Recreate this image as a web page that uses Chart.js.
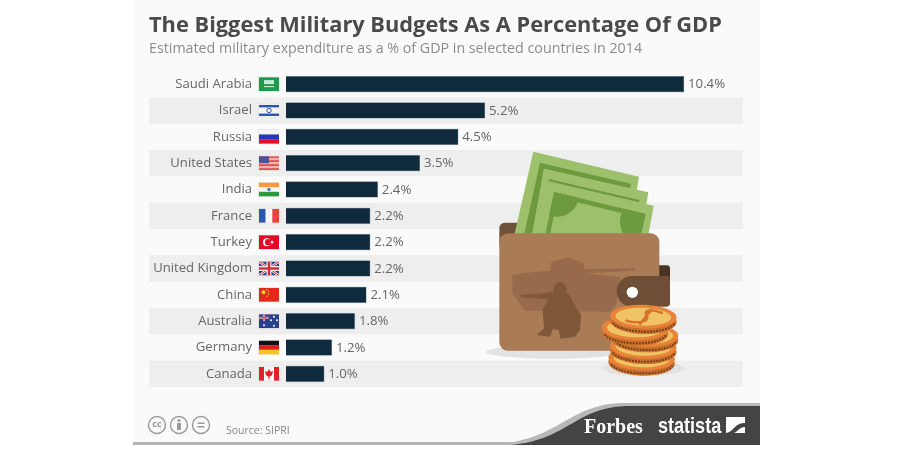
<!DOCTYPE html>
<html>
<head>
<meta charset="utf-8">
<title>Military budgets</title>
<script src="https://cdn.jsdelivr.net/npm/chart.js@4"></script>
<style>
  html, body { margin: 0; padding: 0; background: #fff; }
  canvas { display: block; }
</style>
</head>
<body>
<canvas id="chart" width="900" height="454"></canvas>
<script>
const TITLE = "The Biggest Military Budgets As A Percentage Of GDP";
const SUBTITLE = "Estimated military expenditure as a % of GDP in selected countries in 2014";
const SOURCE = "Source: SIPRI";
const countries = ["Saudi Arabia", "Israel", "Russia", "United States", "India", "France",
  "Turkey", "United Kingdom", "China", "Australia", "Germany", "Canada"];
const values = [10.4, 5.2, 4.5, 3.5, 2.4, 2.2, 2.2, 2.2, 2.1, 1.8, 1.2, 1.0];
const X_MAX = 11.94;

const FONT = '"Open Sans", sans-serif';
const INK = "#666666";

function rect(c, col, x, y, w, h) { c.fillStyle = col; c.fillRect(x, y, w, h); }

/* ---------------- banderas ---------------- */
const FLAGS = {
  "Saudi Arabia": (c, x, y, w, h) => {
    rect(c, "#1f9a4c", x, y, w, h);
    rect(c, "#cfe8d5", x + 5, y + 3, w - 10, 4);
    rect(c, "#e8f4ea", x + 5, y + 9, w - 10, 1);
  },
  "Israel": (c, x, y, w, h) => {
    rect(c, "#f4f4f4", x, y, w, h);
    rect(c, "#2a56b0", x, y + 1.5, w, 2.4);
    rect(c, "#2a56b0", x, y + h - 3.9, w, 2.4);
    c.strokeStyle = "#2a56b0"; c.lineWidth = 1;
    c.beginPath(); c.arc(x + w / 2, y + h / 2, 2.2, 0, Math.PI * 2); c.stroke();
  },
  "Russia": (c, x, y, w, h) => {
    rect(c, "#f4f4f4", x, y, w, h / 3);
    rect(c, "#2438c0", x, y + h / 3, w, h / 3);
    rect(c, "#e8102a", x, y + 2 * h / 3, w, h / 3);
  },
  "United States": (c, x, y, w, h) => {
    for (let i = 0; i < 7; i++) rect(c, i % 2 ? "#f4b0ac" : "#e2504c", x, y + i * h / 7, w, h / 7);
    rect(c, "#50509a", x, y, w * 0.5, h * 0.5);
  },
  "India": (c, x, y, w, h) => {
    rect(c, "#f59a3c", x, y, w, h / 3);
    rect(c, "#f6f6f6", x, y + h / 3, w, h / 3);
    rect(c, "#2a9a3a", x, y + 2 * h / 3, w, h / 3);
    c.fillStyle = "#6a78b8";
    c.beginPath(); c.arc(x + w / 2, y + h / 2, 1.8, 0, Math.PI * 2); c.fill();
  },
  "France": (c, x, y, w, h) => {
    rect(c, "#2a5ab0", x, y, w / 3, h);
    rect(c, "#f6f6f6", x + w / 3, y, w / 3, h);
    rect(c, "#f0403c", x + 2 * w / 3, y, w / 3, h);
  },
  "Turkey": (c, x, y, w, h) => {
    rect(c, "#e30a26", x, y, w, h);
    c.fillStyle = "#fff";
    c.beginPath(); c.arc(x + 8, y + h / 2, 4, 0, Math.PI * 2); c.fill();
    c.fillStyle = "#e30a26";
    c.beginPath(); c.arc(x + 9.2, y + h / 2, 3.2, 0, Math.PI * 2); c.fill();
    c.fillStyle = "#fff";
    c.beginPath(); c.arc(x + 13, y + h / 2, 1.3, 0, Math.PI * 2); c.fill();
  },
  "United Kingdom": (c, x, y, w, h) => {
    rect(c, "#27408f", x, y, w, h);
    c.strokeStyle = "#f0e8e8"; c.lineWidth = 2.6;
    c.beginPath(); c.moveTo(x, y); c.lineTo(x + w, y + h); c.moveTo(x + w, y); c.lineTo(x, y + h); c.stroke();
    c.strokeStyle = "#d8283c"; c.lineWidth = 1;
    c.beginPath(); c.moveTo(x, y); c.lineTo(x + w, y + h); c.moveTo(x + w, y); c.lineTo(x, y + h); c.stroke();
    rect(c, "#f0e8e8", x, y + h / 2 - 2.5, w, 5);
    rect(c, "#f0e8e8", x + w / 2 - 2.5, y, 5, h);
    rect(c, "#d8283c", x, y + h / 2 - 1.2, w, 2.4);
    rect(c, "#d8283c", x + w / 2 - 1.2, y, 2.4, h);
  },
  "China": (c, x, y, w, h) => {
    rect(c, "#e2291c", x, y, w, h);
    c.fillStyle = "#f5d130";
    c.beginPath(); c.arc(x + 4.5, y + 4.5, 2, 0, Math.PI * 2); c.fill();
    [[8, 2], [9.5, 4], [9.5, 6.5], [8, 8.5]].forEach(([a, b]) => {
      c.beginPath(); c.arc(x + a, y + b, 0.7, 0, Math.PI * 2); c.fill();
    });
  },
  "Australia": (c, x, y, w, h) => {
    rect(c, "#27408f", x, y, w, h);
    rect(c, "#f0e8e8", x, y + 2.6, w / 2, 2);
    rect(c, "#f0e8e8", x + 4, y, 2, h / 2);
    rect(c, "#d8283c", x, y + 3.1, w / 2, 1);
    rect(c, "#d8283c", x + 4.5, y, 1, h / 2);
    c.fillStyle = "#fff";
    [[5, 11], [15, 2.5], [12, 6], [18, 6], [15, 11.5]].forEach(([a, b]) => {
      c.beginPath(); c.arc(x + a, y + b, 1, 0, Math.PI * 2); c.fill();
    });
  },
  "Germany": (c, x, y, w, h) => {
    rect(c, "#111111", x, y, w, h / 3);
    rect(c, "#dd1c1c", x, y + h / 3, w, h / 3);
    rect(c, "#f6c61e", x, y + 2 * h / 3, w, h / 3);
  },
  "Canada": (c, x, y, w, h) => {
    rect(c, "#f6f6f6", x, y, w, h);
    rect(c, "#e2202c", x, y, 5, h);
    rect(c, "#e2202c", x + w - 5, y, 5, h);
    c.fillStyle = "#e2202c";
    c.beginPath();
    c.moveTo(x + 10, y + 2); c.lineTo(x + 11.5, y + 5); c.lineTo(x + 14, y + 4.5);
    c.lineTo(x + 13, y + 8.5); c.lineTo(x + 10.5, y + 10); c.lineTo(x + 10.5, y + 12.5);
    c.lineTo(x + 9.5, y + 12.5); c.lineTo(x + 9.5, y + 10); c.lineTo(x + 7, y + 8.5);
    c.lineTo(x + 6, y + 4.5); c.lineTo(x + 8.5, y + 5); c.closePath(); c.fill();
  },
};

/* ---------------- cartera + monedas (coordenadas de 3x) ---------------- */
function poly(c, col, pts) {
  c.fillStyle = col;
  c.beginPath();
  pts.forEach(([a, b], i) => (i ? c.lineTo(a, b) : c.moveTo(a, b)));
  c.closePath(); c.fill();
}

function coin(c, cx, cy) {
  c.fillStyle = "#c9702c";
  c.beginPath(); c.ellipse(cx, cy + 14, 100, 38, 0.03, 0, Math.PI * 2); c.fill();
  c.strokeStyle = "#6d3c1c"; c.lineWidth = 6; c.setLineDash([5, 4]);
  c.beginPath(); c.ellipse(cx, cy + 14, 93, 31, 0.03, 0.15, Math.PI - 0.15); c.stroke();
  c.setLineDash([]);
  c.fillStyle = "#e98338";
  c.beginPath(); c.ellipse(cx, cy, 100, 36, 0.03, 0, Math.PI * 2); c.fill();
  c.fillStyle = "#f0c465";
  c.beginPath(); c.ellipse(cx, cy, 84, 27, 0.03, 0, Math.PI * 2); c.fill();
}

function drawWallet(c) {
  c.save();
  c.translate(470, 140);
  c.scale(1 / 3, 1 / 3);
  const LIGHT = "#9dc06d", DARK = "#6c9a3d";

  // sombras
  c.fillStyle = "#e2e2e2";
  c.beginPath(); c.ellipse(250, 636, 202, 20, 0, 0, Math.PI * 2); c.fill();
  c.beginPath(); c.ellipse(520, 685, 123, 23, 0, 0, Math.PI * 2); c.fill();

  // fondo de la cartera
  c.fillStyle = "#6f5038";
  c.beginPath(); c.roundRect(88, 248, 100, 80, 16); c.fill();
  c.fillStyle = "#4a3322";
  c.beginPath(); c.roundRect(540, 376, 60, 60, 10); c.fill();

  // billetes
  poly(c, LIGHT, [[190, 35], [507, 110], [478, 285], [133, 285]]);
  poly(c, DARK, [[210, 68], [483, 131], [480, 146], [222, 86], [186, 285], [162, 285]]);
  poly(c, LIGHT, [[222, 86], [535, 157], [515, 285], [186, 285]]);
  poly(c, DARK, [[237, 117], [508, 180], [507, 187], [236, 124]]);
  poly(c, LIGHT, [[240, 128], [551, 197], [535, 285], [205, 285]]);
  c.save();
  c.beginPath();
  [[252, 156], [527, 222], [512, 285], [226, 285]].forEach(([a, b], i) => (i ? c.lineTo(a, b) : c.moveTo(a, b)));
  c.closePath(); c.clip();
  c.fillStyle = DARK; c.fillRect(200, 140, 360, 150);
  poly(c, LIGHT, [[262, 172], [522, 236], [505, 285], [240, 285]]);
  c.fillStyle = DARK;
  c.beginPath(); c.arc(262, 165, 65, 0, Math.PI * 2); c.fill();
  c.beginPath(); c.arc(520, 245, 70, 0, Math.PI * 2); c.fill();
  c.restore();

  // cuerpo
  c.fillStyle = "#a97c56";
  c.beginPath(); c.roundRect(88, 280, 480, 352, 26); c.fill();

  // tanque y soldado
  poly(c, "#966a4b", [[127, 405], [165, 398], [240, 392], [245, 365], [295, 352], [340, 370], [345, 388],
    [495, 385], [495, 392], [345, 400], [450, 412], [445, 440], [440, 490], [420, 515], [165, 512], [127, 460]]);
  c.fillStyle = "#7f5739";
  c.beginPath(); c.arc(270, 447, 20, 0, Math.PI * 2); c.fill();
  poly(c, "#7f5739", [[150, 465], [225, 460], [240, 455], [295, 460], [320, 505], [333, 525], [330, 570],
    [315, 590], [272, 596], [266, 570], [248, 568], [240, 590], [200, 585], [222, 565], [218, 510], [235, 478], [155, 472]]);

  // broche
  c.fillStyle = "#6e4e37";
  c.beginPath(); c.roundRect(440, 408, 160, 92, [46, 10, 10, 46]); c.fill();
  c.fillStyle = "#ffffff";
  c.beginPath(); c.arc(487, 457, 17, 0, Math.PI * 2); c.fill();

  // monedas
  [[515, 655], [520, 620], [525, 585], [495, 565], [520, 530]].forEach(([a, b]) => coin(c, a, b));
  c.strokeStyle = "#d9722d"; c.lineWidth = 8; c.lineCap = "round";
  c.beginPath();
  c.moveTo(575, 518); c.bezierCurveTo(540, 505, 520, 510, 530, 528);
  c.bezierCurveTo(540, 545, 500, 552, 470, 542);
  c.moveTo(545, 508); c.lineTo(510, 552);
  c.stroke();
  c.restore();
}

/* ---------------- pie ---------------- */
function drawFooter(c) {
  rect(c, "#b4b4b4", 133, 442, 400, 3);
  c.fillStyle = "#b8b8b8";
  c.beginPath();
  c.moveTo(480, 445); c.bezierCurveTo(560, 445, 565, 403, 625, 403);
  c.lineTo(760, 403); c.lineTo(760, 445); c.closePath(); c.fill();
  c.fillStyle = "#444444";
  c.beginPath();
  c.moveTo(510, 445); c.bezierCurveTo(570, 440, 575, 406, 630, 406);
  c.lineTo(760, 406); c.lineTo(760, 445); c.closePath(); c.fill();

  c.fillStyle = "#ffffff";
  c.textAlign = "left"; c.textBaseline = "alphabetic";
  c.font = 'bold 20px "Liberation Serif", serif';
  c.fillText("Forbes", 584, 433);
  // la marca va condensada
  c.save();
  c.translate(658, 433);
  c.scale(0.82, 1);
  c.font = 'bold 22px "Liberation Sans", sans-serif';
  c.fillText("statista", 0, 0);
  c.restore();
  rect(c, "#ffffff", 726, 417, 19, 16);
  c.fillStyle = "#444444";
  c.beginPath();
  c.moveTo(726, 433); c.bezierCurveTo(734, 432, 734, 423, 745, 423);
  c.lineTo(745, 427); c.bezierCurveTo(738, 427, 738, 433, 733, 433); c.closePath(); c.fill();

  c.fillStyle = "#888888";
  c.font = "10.5px " + FONT;
  c.fillText(SOURCE, 226, 434);

  const GRIS = "#9a9a9a";
  c.strokeStyle = GRIS; c.lineWidth = 1.4;
  [157, 179, 201].forEach((x) => { c.beginPath(); c.arc(x, 425, 8.5, 0, Math.PI * 2); c.stroke(); });
  c.fillStyle = GRIS;
  c.font = "bold 9px " + FONT; c.textAlign = "center"; c.textBaseline = "middle";
  c.fillText("cc", 157, 424.5);
  c.beginPath(); c.arc(179, 420.5, 1.6, 0, Math.PI * 2); c.fill();
  rect(c, GRIS, 177, 423, 4, 7);
  rect(c, GRIS, 197.5, 422.5, 7, 1.5);
  rect(c, GRIS, 197.5, 426, 7, 1.5);
}

/* ---------------- plugins ---------------- */
const panelPlugin = {
  id: "panel",
  beforeDraw(chart) {
    const c = chart.ctx, y = chart.scales.y, a = chart.chartArea;
    rect(c, "#fafafa", 133, 0, 627, 445);
    const rowH = (a.bottom - a.top) / countries.length;
    countries.forEach((_, i) => {
      if (i % 2) rect(c, "#eeeeee", 149, y.getPixelForTick(i) - rowH / 2, a.right - 149, rowH);
    });
  },
};

const marksPlugin = {
  id: "marks",
  afterDatasetsDraw(chart) {
    const c = chart.ctx, y = chart.scales.y;
    const bars = chart.getDatasetMeta(0).data;
    drawWallet(c);
    c.save();
    c.font = "13.2px " + FONT;
    c.fillStyle = INK;
    c.textAlign = "left"; c.textBaseline = "middle";
    bars.forEach((b, i) => c.fillText(values[i].toFixed(1) + "%", b.x + 4, b.y + 0.5));
    countries.forEach((name, i) => {
      const py = y.getPixelForTick(i);
      rect(c, "#e4e4e4", 258, py - 7.5, 21, 15);
      c.save();
      c.beginPath(); c.rect(259, py - 7, 20, 14); c.clip();
      FLAGS[name](c, 259, py - 7, 20, 14);
      c.restore();
    });
    drawFooter(c);
    c.restore();
  },
};

new Chart(document.getElementById("chart"), {
  type: "bar",
  data: {
    labels: countries,
    datasets: [{
      data: values,
      backgroundColor: "#0f2a3c",
      borderColor: "#aab6bd",
      borderWidth: 0.7,
      barThickness: 16,
    }],
  },
  plugins: [panelPlugin, marksPlugin],
  options: {
    indexAxis: "y",
    responsive: false,
    animation: false,
    events: [],
    layout: { padding: { left: 149, right: 157, top: 13, bottom: 67 } },
    plugins: {
      legend: { display: false },
      tooltip: { enabled: false },
      title: {
        display: true, text: TITLE, align: "start", color: "#4a4a4a",
        font: { family: FONT, size: 21.8, weight: "bold", lineHeight: 1.15 },
        padding: 0,
      },
      subtitle: {
        display: true, text: SUBTITLE, align: "start", color: "#8c8c8c",
        font: { family: FONT, size: 14.25, weight: "normal", lineHeight: 1.2 },
        padding: { top: 2, bottom: 13.8 },
      },
    },
    scales: {
      x: { display: false, min: 0, max: X_MAX },
      y: {
        grid: { display: false, drawTicks: false },
        border: { display: false },
        ticks: { color: INK, font: { family: FONT, size: 13.1 }, padding: 34, autoSkip: false },
        afterFit(scale) { scale.width = 137; },
      },
    },
  },
});
</script>
</body>
</html>
